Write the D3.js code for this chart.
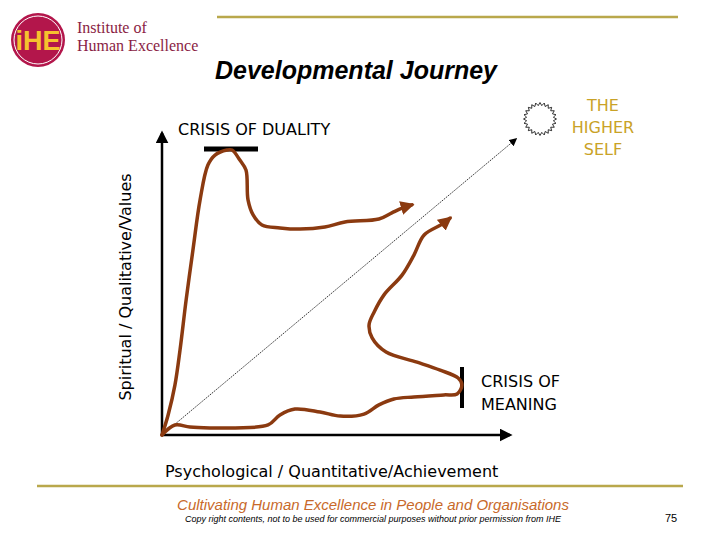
<!DOCTYPE html>
<html><head><meta charset="utf-8">
<script src="https://cdn.jsdelivr.net/npm/d3@7"></script>
<style>body{margin:0;background:#fff}</style>
</head><body>
<script>
var width = 720, height = 540;

// path of the upper journey (crisis of duality), in axis units 0..100
var dualityX = [0, 1.8, 3.8, 5.3, 7.1, 9.1, 11.2, 13.5, 15.6, 19.1, 20.6, 22.9, 24.7, 25.3, 26.8, 29.4, 34.7, 40.6, 47.9, 53.8, 63.8, 67.6, 70.6, 73.5];
var dualityY = [0, 6.8, 16.9, 28.8, 45.8, 62.7, 79.7, 91.5, 94.9, 96.6, 96.6, 93.2, 89.8, 79.7, 74.6, 71.2, 70.2, 69.8, 70.5, 72.2, 73.2, 75.3, 76.9, 78.0];
// path of the lower journey (crisis of meaning)
var meaningX = [0, 3.8, 8.2, 14.1, 21.5, 31.2, 34.7, 39.1, 46.5, 52.4, 59.4, 63.8, 68.2, 74.1, 82.9, 86.8, 88.2, 87.1, 81.8, 75.0, 65.9, 61.8, 60.9, 62.4, 65.3, 70.6, 74.1, 77.1, 82.4, 84.7];
var meaningY = [0, 3.4, 2.7, 2.4, 2.4, 3.4, 6.8, 8.8, 7.8, 6.4, 7.1, 10.2, 12.2, 12.9, 13.6, 13.9, 17.0, 19.3, 22.0, 24.7, 28.1, 32.9, 37.3, 41.7, 47.5, 54.2, 61.0, 67.8, 71.5, 73.5];

var x = d3.scaleLinear().domain([0, 100]).range([162, 502]);
var y = d3.scaleLinear().domain([0, 100]).range([435, 140]);

var svg = d3.select("body").append("svg").attr("width", width).attr("height", height)
    .style("font-family", "DejaVu Sans");

var defs = svg.append("defs");
function marker(id, col, w) {
    defs.append("marker").attr("id", id).attr("viewBox", "0 0 10 10")
        .attr("refX", 8).attr("refY", 5).attr("markerWidth", w).attr("markerHeight", w)
        .attr("markerUnits", "userSpaceOnUse").attr("orient", "auto")
        .append("path").attr("d", "M0,0L10,5L0,10z").attr("fill", col);
}
marker("ax", "#000", 13);
marker("br", "#8b3a10", 14);
marker("dt", "#000", 8);

// logo
var logo = svg.append("g");
logo.append("circle").attr("cx", 38).attr("cy", 40).attr("r", 27).attr("fill", "#b3164b");
logo.append("circle").attr("cx", 38).attr("cy", 40).attr("r", 24).attr("fill", "none").attr("stroke", "#fff").attr("stroke-width", 1);
logo.append("text").attr("x", 38).attr("y", 50).attr("text-anchor", "middle").attr("font-size", 27)
    .attr("font-weight", "bold").attr("font-family", "Liberation Sans").attr("fill", "#f6c12e").text("iHE");
logo.append("text").attr("x", 77).attr("y", 33).attr("font-size", 16).attr("font-family", "Liberation Serif").attr("fill", "#8a1d44").text("Institute of");
logo.append("text").attr("x", 77).attr("y", 51).attr("font-size", 16).attr("font-family", "Liberation Serif").attr("fill", "#8a1d44").text("Human Excellence");

svg.append("line").attr("x1", 217).attr("x2", 678).attr("y1", 17).attr("y2", 17).attr("stroke", "#b9a84c").attr("stroke-width", 2.5);
svg.append("line").attr("x1", 37).attr("x2", 683).attr("y1", 486).attr("y2", 486).attr("stroke", "#b9a84c").attr("stroke-width", 2.5);

svg.append("text").attr("x", 356).attr("y", 79).attr("text-anchor", "middle").attr("font-size", 25)
    .attr("font-weight", "bold").attr("font-style", "italic").attr("font-family", "Liberation Sans").text("Developmental Journey");

// axes
svg.append("line").attr("x1", x(0)).attr("y1", y(0)).attr("x2", 510).attr("y2", y(0)).attr("stroke", "#000").attr("stroke-width", 2.5).attr("marker-end", "url(#ax)");
svg.append("line").attr("x1", x(0)).attr("y1", y(0)).attr("x2", x(0)).attr("y2", 133).attr("stroke", "#000").attr("stroke-width", 2.5).attr("marker-end", "url(#ax)");

// diagonal to higher self
svg.append("line").attr("x1", x(0)).attr("y1", y(0)).attr("x2", x(104.1)).attr("y2", y(100.3))
    .attr("stroke", "#000").attr("stroke-width", 0.8).attr("stroke-dasharray", "1.5,1").attr("marker-end", "url(#dt)");

// starburst
var pts = d3.range(48).map(function (i) {
    var a = i / 48 * 2 * Math.PI, r = i % 2 ? 13.5 : 16.5;
    return [540 + r * Math.cos(a), 119 + r * Math.sin(a)];
});
svg.append("path").attr("d", d3.line()(pts) + "Z").attr("fill", "none").attr("stroke", "#000").attr("stroke-width", 0.8);

// crisis bars
svg.append("line").attr("x1", 204).attr("x2", 258).attr("y1", 149).attr("y2", 149).attr("stroke", "#000").attr("stroke-width", 5);
svg.append("line").attr("x1", 462).attr("x2", 462).attr("y1", 367).attr("y2", 408).attr("stroke", "#000").attr("stroke-width", 4);

var line = d3.line().x(function (d) { return x(d[0]); }).y(function (d) { return y(d[1]); }).curve(d3.curveCatmullRom);
[[dualityX, dualityY], [meaningX, meaningY]].forEach(function (s) {
    svg.append("path").attr("d", line(d3.zip(s[0], s[1]))).attr("fill", "none")
        .attr("stroke", "#8b3a10").attr("stroke-width", 3.5).attr("stroke-linecap", "round").attr("marker-end", "url(#br)");
});

// labels
svg.append("text").attr("x", 178).attr("y", 135).attr("font-size", 16).text("CRISIS OF DUALITY");
["THE", "HIGHER", "SELF"].forEach(function (t, i) {
    svg.append("text").attr("x", 603).attr("y", 111 + i * 22).attr("text-anchor", "middle").attr("font-size", 16).attr("fill", "#c9a227").text(t);
});
svg.append("text").attr("x", 481).attr("y", 387).attr("font-size", 16).text("CRISIS OF");
svg.append("text").attr("x", 481).attr("y", 410).attr("font-size", 16).text("MEANING");
svg.append("text").attr("transform", "translate(131,287) rotate(-90)").attr("text-anchor", "middle").attr("font-size", 16)
    .text("Spiritual / Qualitative/Values");
svg.append("text").attr("x", 165).attr("y", 477).attr("font-size", 16).text("Psychological / Quantitative/Achievement");

// footer
svg.append("text").attr("x", 373).attr("y", 510).attr("text-anchor", "middle").attr("font-size", 15).attr("font-style", "italic")
    .attr("font-family", "Liberation Sans").attr("fill", "#c8692a").text("Cultivating Human Excellence in People and Organisations");
svg.append("text").attr("x", 373).attr("y", 522).attr("text-anchor", "middle").attr("font-size", 9).attr("font-style", "italic")
    .attr("font-family", "Liberation Sans").text("Copy right contents, not to be used for commercial purposes without prior permission from IHE");
svg.append("text").attr("x", 671).attr("y", 522).attr("text-anchor", "middle").attr("font-size", 11)
    .attr("font-family", "Liberation Sans").text("75");
</script>
</body></html>
